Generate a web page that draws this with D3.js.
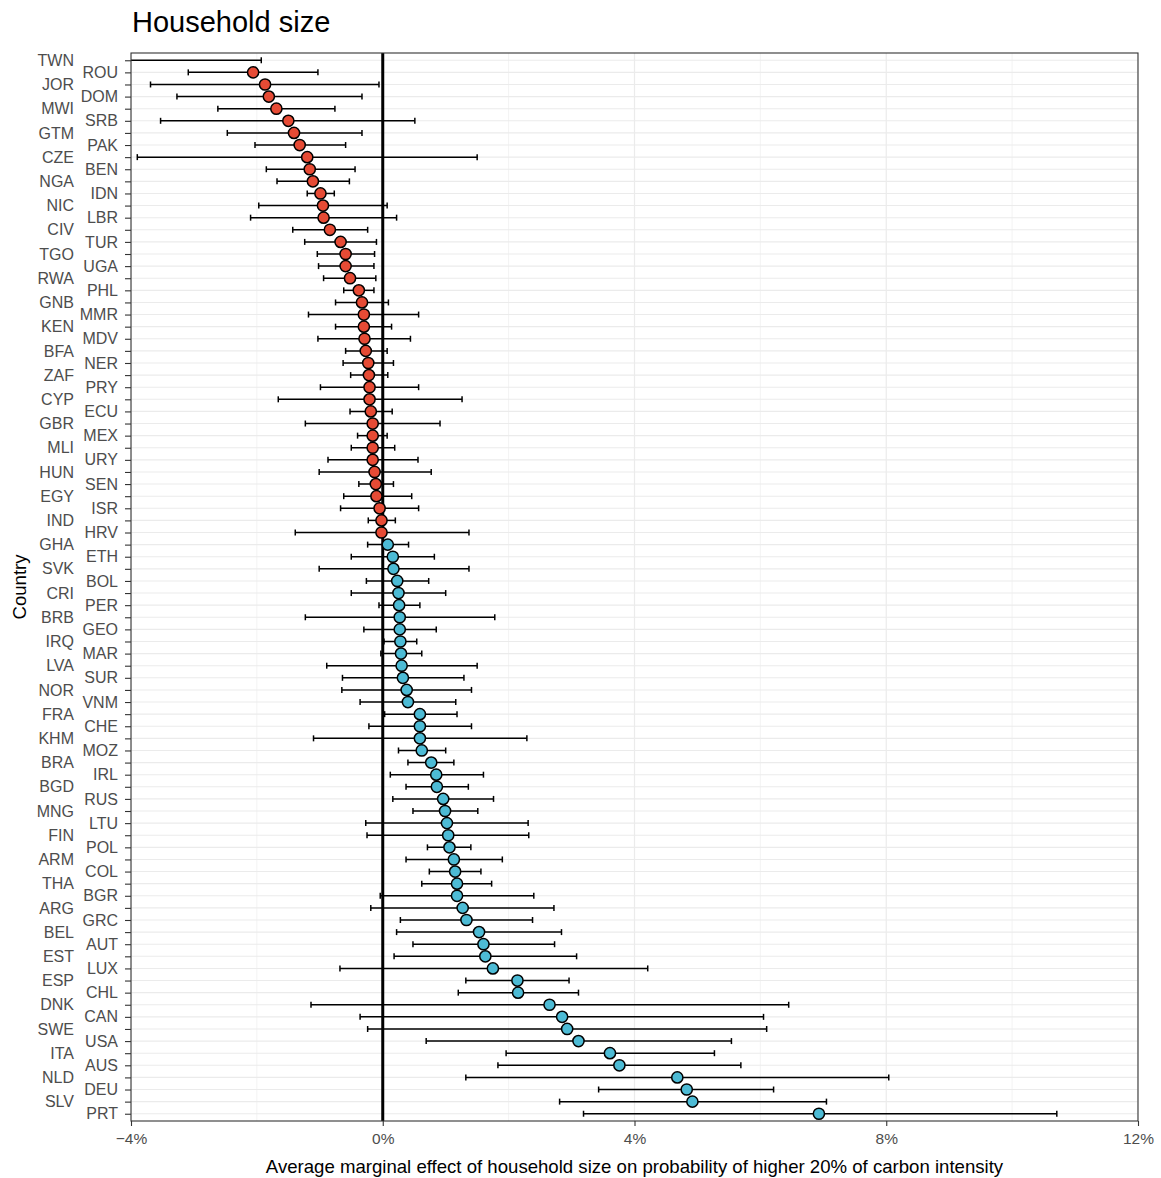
<!DOCTYPE html>
<html>
<head>
<meta charset="utf-8">
<script src="https://cdn.jsdelivr.net/npm/d3@7"></script>
<style>
  html, body { margin: 0; padding: 0; background: #fff; }
  svg { display: block; font-family: "Liberation Sans", Arial, sans-serif; }
</style>
</head>
<body>
<svg id="chart" width="1161" height="1178"></svg>
<script>
// ---- data (percent) ----
const countries = ["TWN","ROU","JOR","DOM","MWI","SRB","GTM","PAK","CZE","BEN","NGA","IDN","NIC","LBR","CIV","TUR","TGO","UGA","RWA","PHL","GNB","MMR","KEN","MDV","BFA","NER","ZAF","PRY","CYP","ECU","GBR","MEX","MLI","URY","HUN","SEN","EGY","ISR","IND","HRV","GHA","ETH","SVK","BOL","CRI","PER","BRB","GEO","IRQ","MAR","LVA","SUR","NOR","VNM","FRA","CHE","KHM","MOZ","BRA","IRL","BGD","RUS","MNG","LTU","FIN","POL","ARM","COL","THA","BGR","ARG","GRC","BEL","AUT","EST","LUX","ESP","CHL","DNK","CAN","SWE","USA","ITA","AUS","NLD","DEU","SLV","PRT"];
const estimate = [-5.0,-2.06,-1.87,-1.81,-1.69,-1.50,-1.41,-1.32,-1.20,-1.16,-1.11,-0.99,-0.95,-0.94,-0.84,-0.67,-0.59,-0.59,-0.52,-0.38,-0.33,-0.30,-0.30,-0.29,-0.27,-0.23,-0.22,-0.21,-0.21,-0.19,-0.16,-0.16,-0.16,-0.16,-0.13,-0.11,-0.10,-0.05,-0.02,-0.02,0.08,0.16,0.17,0.23,0.25,0.26,0.27,0.27,0.28,0.29,0.30,0.32,0.38,0.40,0.59,0.59,0.59,0.62,0.77,0.85,0.86,0.96,0.99,1.02,1.04,1.06,1.13,1.15,1.18,1.18,1.27,1.33,1.53,1.60,1.63,1.75,2.14,2.15,2.65,2.85,2.93,3.11,3.61,3.76,4.68,4.83,4.92,6.93];
const lower = [-8.1,-3.09,-3.69,-3.27,-2.62,-3.53,-2.47,-2.03,-3.90,-1.85,-1.68,-1.20,-1.97,-2.10,-1.43,-1.24,-1.04,-1.02,-0.94,-0.62,-0.75,-1.18,-0.75,-1.03,-0.59,-0.63,-0.51,-0.99,-1.66,-0.52,-1.23,-0.40,-0.50,-0.87,-1.01,-0.38,-0.62,-0.67,-0.23,-1.39,-0.24,-0.50,-1.01,-0.26,-0.50,-0.06,-1.23,-0.30,0.02,-0.03,-0.89,-0.64,-0.65,-0.36,0.03,-0.22,-1.10,0.25,0.40,0.12,0.37,0.16,0.48,-0.27,-0.25,0.71,0.37,0.74,0.62,-0.04,-0.19,0.28,0.22,0.48,0.18,-0.68,1.32,1.20,-1.14,-0.36,-0.24,0.69,1.96,1.83,1.32,3.43,2.81,3.19];
const upper = [-1.93,-1.03,-0.06,-0.33,-0.76,0.51,-0.33,-0.59,1.50,-0.44,-0.53,-0.77,0.07,0.22,-0.24,-0.10,-0.13,-0.14,-0.11,-0.14,0.09,0.57,0.14,0.44,0.07,0.17,0.08,0.57,1.26,0.15,0.91,0.07,0.19,0.56,0.77,0.17,0.46,0.57,0.20,1.37,0.41,0.82,1.37,0.73,1.00,0.59,1.78,0.85,0.54,0.62,1.50,1.29,1.41,1.16,1.18,1.41,2.29,1.00,1.13,1.60,1.36,1.76,1.51,2.31,2.32,1.40,1.90,1.56,1.73,2.40,2.72,2.38,2.84,2.73,3.08,4.21,2.96,3.11,6.45,6.05,6.10,5.54,5.27,5.69,8.04,6.21,7.05,10.71];
const xTicks = [-4, 0, 4, 8, 12];
const xMinor = [-2, 2, 6, 10];
const titleText = "Household size";
const xTitle = "Average marginal effect of household size on probability of higher 20% of carbon intensity";
const yTitle = "Country";

const rows = countries.map((c, i) => ({ c, i, est: estimate[i], lo: lower[i], hi: upper[i] }));

// ---- layout ----
const svg = d3.select("#chart");
const P = { left: 131, right: 1138, top: 53, bottom: 1121 };
const x = d3.scaleLinear().domain([-4, 12]).range([P.left, P.right]);
const y = d3.scalePoint().domain(countries).range([P.top, P.bottom]).padding(0.6);

const RED = "#E64B35", BLUE = "#4DBBD5";

svg.append("rect").attr("x", P.left).attr("y", P.top)
  .attr("width", P.right - P.left).attr("height", P.bottom - P.top).attr("fill", "#fff");

const clipId = "panelclip";
svg.append("clipPath").attr("id", clipId).append("rect")
  .attr("x", P.left).attr("y", P.top).attr("width", P.right - P.left).attr("height", P.bottom - P.top);

const g = svg.append("g").attr("clip-path", `url(#${clipId})`);

// minor grid
g.selectAll("line.minor").data(xMinor).join("line")
  .attr("x1", d => x(d)).attr("x2", d => x(d)).attr("y1", P.top).attr("y2", P.bottom)
  .attr("stroke", "#EBEBEB").attr("stroke-width", 0.6);
// horizontal grid
g.selectAll("line.hgrid").data(countries).join("line")
  .attr("x1", P.left).attr("x2", P.right).attr("y1", d => y(d)).attr("y2", d => y(d))
  .attr("stroke", "#EBEBEB").attr("stroke-width", 1.1);
// major grid
g.selectAll("line.major").data(xTicks).join("line")
  .attr("x1", d => x(d)).attr("x2", d => x(d)).attr("y1", P.top).attr("y2", P.bottom)
  .attr("stroke", "#EBEBEB").attr("stroke-width", 1.2);

// zero line
g.append("line").attr("x1", x(0)).attr("x2", x(0)).attr("y1", P.top).attr("y2", P.bottom)
  .attr("stroke", "#000").attr("stroke-width", 3);

// error bars
const eb = g.selectAll("g.eb").data(rows).join("g");
const cap = 3;
eb.append("line").attr("x1", d => x(d.lo)).attr("x2", d => x(d.hi))
  .attr("y1", d => y(d.c)).attr("y2", d => y(d.c)).attr("stroke", "#000").attr("stroke-width", 1.5);
eb.append("line").attr("x1", d => x(d.lo)).attr("x2", d => x(d.lo))
  .attr("y1", d => y(d.c) - cap).attr("y2", d => y(d.c) + cap).attr("stroke", "#000").attr("stroke-width", 1.5);
eb.append("line").attr("x1", d => x(d.hi)).attr("x2", d => x(d.hi))
  .attr("y1", d => y(d.c) - cap).attr("y2", d => y(d.c) + cap).attr("stroke", "#000").attr("stroke-width", 1.5);

// points
g.selectAll("circle.pt").data(rows).join("circle")
  .attr("cx", d => x(d.est)).attr("cy", d => y(d.c)).attr("r", 5.6)
  .attr("fill", d => d.est < 0 ? RED : BLUE).attr("stroke", "#000").attr("stroke-width", 1.5);

// panel border
svg.append("rect").attr("x", P.left).attr("y", P.top)
  .attr("width", P.right - P.left).attr("height", P.bottom - P.top)
  .attr("fill", "none").attr("stroke", "#333333").attr("stroke-width", 1.1);

// x axis
const xAxis = d3.axisBottom(x).tickValues(xTicks).tickSize(5).tickPadding(7)
  .tickFormat(d => (d < 0 ? "\u2212" + Math.abs(d) : d) + "%");
const xa = svg.append("g").attr("transform", `translate(0,${P.bottom})`).call(xAxis);
xa.select(".domain").remove();
xa.selectAll(".tick line").attr("stroke", "#333333").attr("stroke-width", 1.1);
xa.selectAll(".tick text").attr("fill", "#4D4D4D").style("font-size", "15.5px")
  .style("font-family", "'Liberation Sans', Arial, sans-serif");

// y axis (alternating label offsets)
const yAxis = d3.axisLeft(y).tickSize(6).tickPadding(4);
const ya = svg.append("g").attr("transform", `translate(${P.left},0)`).call(yAxis);
ya.select(".domain").remove();
ya.selectAll(".tick line").attr("stroke", "#333333").attr("stroke-width", 1.1);
ya.selectAll(".tick text").attr("fill", "#4D4D4D").style("font-size", "16px")
  .style("font-family", "'Liberation Sans', Arial, sans-serif")
  .attr("x", (d) => countries.indexOf(d) % 2 === 0 ? -57 : -13);

// titles
svg.append("text").attr("x", P.left + 1).attr("y", 32).text(titleText)
  .attr("fill", "#000").style("font-size", "29px");
svg.append("text").attr("x", (P.left + P.right) / 2).attr("y", 1173).attr("text-anchor", "middle")
  .text(xTitle).attr("fill", "#000").style("font-size", "18.6px");
svg.append("text").attr("transform", `translate(26,${(P.top + P.bottom) / 2}) rotate(-90)`)
  .attr("text-anchor", "middle").text(yTitle).attr("fill", "#000").style("font-size", "18.6px");
</script>
</body>
</html>
